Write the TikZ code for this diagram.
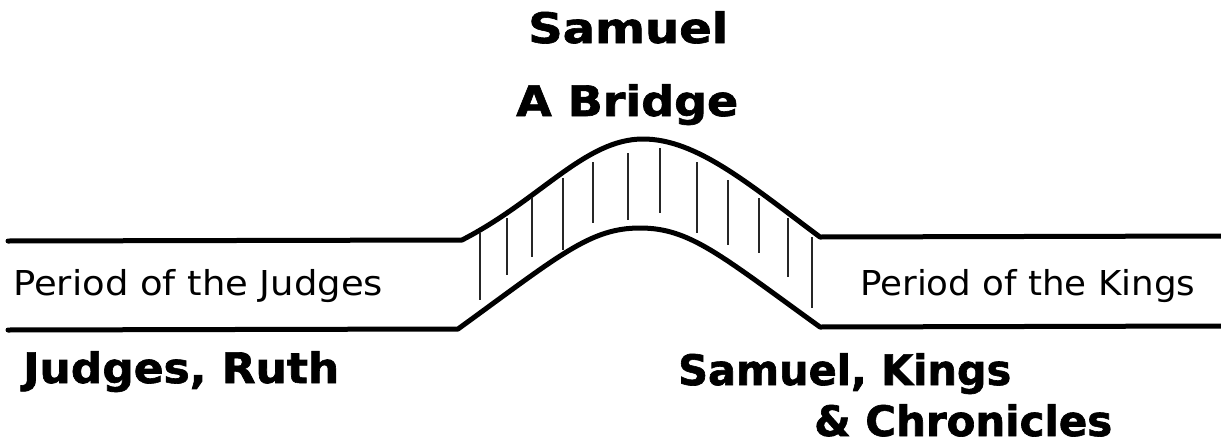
\documentclass[tikz,border=0pt]{standalone}
\usepackage{fontspec}
\setmainfont{DejaVu Sans}
\newfontfamily\headfont{DejaVu Sans}[BoldFeatures={FakeBold=1.5}]
\usepackage{graphicx}
\begin{document}
\begin{tikzpicture}[x=1pt,y=-1pt,
  road/.style={line width=5pt, line cap=round, line join=round},
  hatch/.style={line width=1.2pt, black!85},
  head/.style={anchor=base west, inner sep=0pt, font=\fontsize{42}{50}\selectfont\headfont\bfseries},
  per/.style={anchor=base west, inner sep=0pt, font=\fontsize{34.3}{40}\selectfont}]
\useasboundingbox[fill=white] (0,0) rectangle (1221,442);
% upper and lower edges of the road and bridge
\draw[road] (8,241) -- (462,240) .. controls (540,200) and (585,139) .. (643,139)
  .. controls (697,139) and (750,185) .. (820,237) -- (1225,236);
\draw[road] (8,330) -- (458,329) .. controls (560,255) and (590,228) .. (640,228)
  .. controls (690,228) and (720,255) .. (820,327) -- (1225,326);
% hatching of the bridge
\foreach \x/\a/\b in {480/233/300, 507/218/275, 532/198/257, 563/178/250, 593/162/223,
  628/153/220, 660/148/213, 697/162/233, 728/180/245, 759/198/253, 788/218/277, 812/237/308}
  \draw[hatch] (\x,\a) -- (\x,\b);
% texts
\node[head] (t1) at (528,43) {\resizebox{200pt}{\height}{Samuel}};
\node[head] (t2) at (516,116) {\resizebox{222pt}{\height}{A Bridge}};
\node[per] (p1) at (13,295) {\resizebox{370pt}{\height}{Period of the Judges}};
\node[per] (p2) at (860,295) {\resizebox{335pt}{\height}{Period of the Kings}};
\node[head] (b1) at (23,383) {\resizebox{316pt}{\height}{Judges, Ruth}};
\node[head] (b2) at (678,385) {\resizebox{333pt}{\height}{Samuel, Kings}};
\node[head] (b3) at (814,436) {\resizebox{298pt}{\height}{\& Chronicles}};
\end{tikzpicture}
\end{document}
